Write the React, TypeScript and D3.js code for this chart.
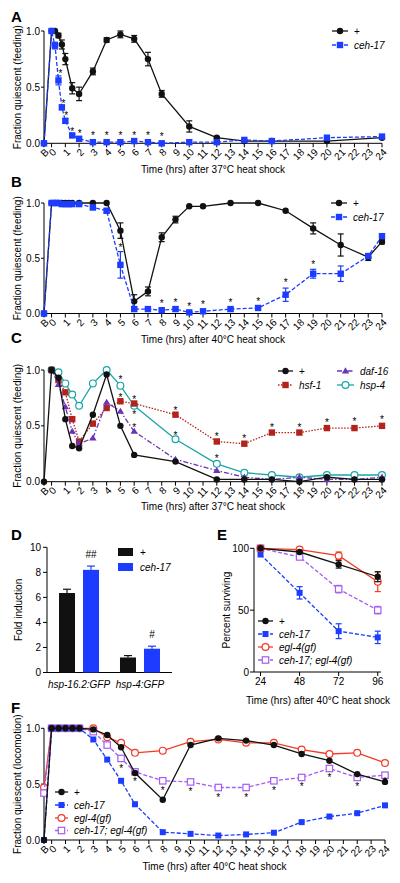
import React from "react";
import * as d3 from "d3";

const FONT = "'Liberation Sans', Arial, Helvetica, sans-serif";
const BLACK = "#111111";
const BLUE = "#1c3cff";
const RED = "#f23b27";
const DARKRED = "#b3231b";
const PURPLE = "#6b33b8";
const TEAL = "#1aa6a6";
const LILAC = "#a65cf0";

// ---------- shared tick labels ----------
const timeTickLabels = ["B", "0", "1", "2", "3", "4", "5", "6", "7", "8", "9", "10", "11", "12", "13", "14", "15", "16", "17", "18", "19", "20", "21", "22", "23", "24"];
const yTicksFrac = [0, 0.5, 1];

// ---------- Panel A ----------
const aTimes = ["B", 0, 0.25, 0.5, 0.75, 1, 1.5, 2, 3, 4, 5, 6, 7, 8, 10, 12, 14, 16, 20, 24];
const aWild = [0, 1, 1, 0.96, 0.88, 0.75, 0.49, 0.44, 0.64, 0.92, 0.97, 0.93, 0.75, 0.44, 0.15, 0.05, 0.02, 0.02, 0.02, 0.05];
const aWildErr = [0, 0, 0, 0.02, 0.04, 0.05, 0.05, 0.06, 0.03, 0.02, 0.03, 0.03, 0.06, 0.03, 0.05, 0.01, 0, 0, 0, 0.01];
const aCeh = [0, 1, 0.87, 0.56, 0.32, 0.2, 0.07, 0.04, 0.01, 0.01, 0.01, 0.02, 0.01, 0.0, 0.01, 0.01, 0.03, 0.02, 0.05, 0.06];
const aCehErr = [0, 0, 0.03, 0.04, 0.02, 0.02, 0.01, 0.02, 0, 0, 0, 0, 0, 0, 0, 0, 0, 0, 0, 0.01];
const aStarX = [0.65, 0.87, 1.07, 1.5, 2.05, 3, 4, 5, 6, 7, 8];
const aStarY = [0.64, 0.38, 0.27, 0.13, 0.11, 0.09, 0.09, 0.09, 0.09, 0.09, 0.08];

// ---------- Panel B ----------
const bTimes = ["B", 0, 0.25, 0.5, 0.75, 1, 1.25, 1.5, 2, 3, 4, 5, 6, 7, 8, 9, 10, 11, 13, 15, 17, 19, 21, 23, 24];
const bWild = [0, 1, 1, 1, 1, 1, 1, 1, 1, 1, 1, 0.75, 0.11, 0.2, 0.69, 0.85, 0.97, 0.97, 1.0, 1.0, 0.93, 0.77, 0.62, 0.51, 0.65];
const bWildErr = [0, 0, 0, 0, 0, 0, 0, 0, 0, 0, 0, 0.07, 0.06, 0.04, 0.04, 0.03, 0, 0, 0, 0, 0, 0.05, 0.1, 0.03, 0.02];
const bCeh = [0, 1, 1, 1, 0.99, 0.99, 0.99, 0.99, 0.99, 0.96, 0.93, 0.44, 0.04, 0.04, 0.03, 0.04, 0.01, 0.02, 0.04, 0.05, 0.17, 0.36, 0.36, 0.52, 0.7];
const bCehErr = [0, 0, 0, 0, 0, 0, 0, 0, 0.01, 0.02, 0.02, 0.12, 0.02, 0.02, 0.01, 0.02, 0.01, 0.01, 0.02, 0.01, 0.06, 0.04, 0.07, 0.02, 0.02];
const bStarX = [5, 8, 9, 10, 11, 13, 15, 17, 19];
const bStarY = [0.62, 0.11, 0.12, 0.09, 0.1, 0.12, 0.13, 0.3, 0.47];

// ---------- Panel C ----------
const cTimes = [0, 0.5, 1, 1.5, 2, 3, 4, 5, 6, 9, 12, 14, 16, 18, 20, 22, 24];
const cWildTimes = ["B", 0, 0.5, 1, 1.5, 2, 3, 4, 5, 6, 9, 12, 14, 16, 18, 20, 22, 24];
const cWild = [0, 1, 0.93, 0.56, 0.32, 0.3, 0.6, 0.96, 0.5, 0.24, 0.18, 0.02, 0.02, 0.02, 0.0, 0.04, 0.02, 0.02];
const cHsf1 = [1, 0.91, 0.8, 0.56, 0.36, 0.52, 0.66, 0.72, 0.7, 0.6, 0.36, 0.34, 0.44, 0.44, 0.48, 0.48, 0.5];
const cDaf16 = [1, 0.87, 0.67, 0.45, 0.34, 0.39, 0.71, 0.63, 0.45, 0.2, 0.1, 0.04, 0.02, 0.04, 0.02, 0.02, 0.04];
const cHsp4 = [1, 0.98, 0.88, 0.78, 0.68, 0.88, 1.0, 0.86, 0.68, 0.38, 0.16, 0.08, 0.06, 0.04, 0.06, 0.06, 0.06];
const cStarX = [5, 5, 6, 6, 6, 9, 9, 12, 12, 14, 16, 18, 20, 22, 24];
const cStarY = [0.94, 0.78, 0.76, 0.62, 0.51, 0.66, 0.44, 0.43, 0.23, 0.41, 0.51, 0.51, 0.55, 0.56, 0.58];

// ---------- Panel D ----------
const dCategories = ["hsp-16.2:GFP", "hsp-4:GFP"];
const dWild = [6.35, 1.2];
const dWildErr = [0.3, 0.15];
const dCeh = [8.2, 1.9];
const dCehErr = [0.3, 0.2];
const dMarks = ["##", "#"];
const dTicks = [0, 2, 4, 6, 8, 10];

// ---------- Panel E ----------
const eTimes = [24, 48, 72, 96];
const eWild = [100, 97, 87, 77];
const eWildErr = [0, 1, 3, 4];
const eCeh = [95, 64, 33, 28];
const eCehErr = [0, 5, 6, 5];
const eEgl = [100, 99, 94, 73];
const eEglErr = [0, 0, 3, 8];
const eDouble = [100, 93, 67, 50];
const eDoubleErr = [0, 2, 3, 3];
const eTicksY = [0, 50, 100];

// ---------- Panel F ----------
const fTimes = ["B", 0, 0.5, 1, 1.5, 2, 3, 4, 5, 6, 8, 10, 12, 14, 16, 18, 20, 22, 24];
const fWild = [0, 1, 1, 1, 1, 1, 0.99, 0.94, 0.83, 0.6, 0.36, 0.85, 0.91, 0.89, 0.85, 0.77, 0.71, 0.59, 0.52];
const fCeh = [0, 1, 1, 1, 1, 1, 0.9, 0.72, 0.53, 0.32, 0.07, 0.055, 0.04, 0.05, 0.065, 0.16, 0.21, 0.24, 0.31];
const fEgl = [0.47, 1, 1, 1, 1, 1, 1.0, 0.92, 0.87, 0.78, 0.8, 0.88, 0.9, 0.87, 0.87, 0.81, 0.77, 0.78, 0.69];
const fDouble = [0.42, 1, 1, 1, 1, 1, 0.97, 0.85, 0.73, 0.61, 0.53, 0.52, 0.47, 0.47, 0.53, 0.56, 0.64, 0.56, 0.58];
const fStarX = [5, 6, 8, 10, 12, 14, 16, 18, 20, 22, 24];
const fStarY = [0.66, 0.55, 0.47, 0.46, 0.4, 0.4, 0.47, 0.5, 0.58, 0.5, 0.55];

const B_POS = -0.55;
const tv = (t: any) => (t === "B" ? B_POS : +t);

type Marker = "circle" | "square" | "triangle";
interface Series {
  times: any[];
  values: number[];
  errs?: number[];
  color: string;
  marker: Marker;
  open?: boolean;
  dash?: string;
  size?: number;
}

function MarkerShape({ x, y, marker, color, open, size = 3.2 }: any) {
  const fill = open ? "white" : color;
  const sw = open ? 1.2 : 0;
  if (marker === "circle") return <circle cx={x} cy={y} r={size} fill={fill} stroke={color} strokeWidth={sw} />;
  if (marker === "square")
    return <rect x={x - size} y={y - size} width={size * 2} height={size * 2} fill={fill} stroke={color} strokeWidth={sw} />;
  const h = size * 1.9;
  return (
    <path
      d={`M${x},${y - h * 0.6} L${x + size * 1.15},${y + h * 0.4} L${x - size * 1.15},${y + h * 0.4} Z`}
      fill={fill}
      stroke={color}
      strokeWidth={sw}
    />
  );
}

function SeriesMarks({ s, x, y }: { s: Series; x: (v: number) => number; y: (v: number) => number }) {
  const pts = s.times.map((t, i) => [x(tv(t)), y(s.values[i])] as [number, number]);
  const line = d3.line()(pts) || "";
  return (
    <g>
      {s.errs &&
        s.times.map((t, i) => {
          const e = s.errs![i];
          if (!e) return null;
          const cx = x(tv(t));
          const y1 = y(s.values[i] - e);
          const y2 = y(s.values[i] + e);
          return (
            <g key={"e" + i} stroke={s.color} strokeWidth={1.2}>
              <line x1={cx} x2={cx} y1={y1} y2={y2} />
              <line x1={cx - 3} x2={cx + 3} y1={y1} y2={y1} />
              <line x1={cx - 3} x2={cx + 3} y1={y2} y2={y2} />
            </g>
          );
        })}
      <path d={line} fill="none" stroke={s.color} strokeWidth={1.3} strokeDasharray={s.dash} />
      {pts.map((p, i) => (
        <MarkerShape key={i} x={p[0]} y={p[1]} marker={s.marker} color={s.color} open={s.open} size={s.size} />
      ))}
    </g>
  );
}

function LegendItem({ x, y, s, label, italic = true, len = 16 }: any) {
  return (
    <g>
      <line x1={x} x2={x + len} y1={y} y2={y} stroke={s.color} strokeWidth={1.3} strokeDasharray={s.dash} />
      <MarkerShape x={x + len / 2} y={y} marker={s.marker} color={s.color} open={s.open} size={s.size} />
      <text x={x + len + 6} y={y} dy="0.35em" fontSize={10} fontStyle={italic ? "italic" : "normal"}>
        {label}
      </text>
    </g>
  );
}

function TimePanel({
  top,
  bottom,
  right,
  letter,
  letterY,
  yTitle,
  xTitle,
  xTitleY,
  series,
  starX,
  starY,
  legend,
}: any) {
  const x = d3.scaleLinear().domain([B_POS, 24]).range([44, right]);
  const y = d3.scaleLinear().domain([0, 1]).range([bottom, top]);
  return (
    <g>
      <text x={11} y={letterY} fontSize={15} fontWeight="bold">
        {letter}
      </text>
      {/* y axis */}
      <line x1={44} x2={44} y1={y(0)} y2={y(1)} stroke="black" strokeWidth={1} />
      {yTicksFrac.map((t) => (
        <g key={t}>
          <line x1={41} x2={44} y1={y(t)} y2={y(t)} stroke="black" />
          <text x={40} y={y(t)} dy="0.35em" textAnchor="end" fontSize={10}>
            {t.toFixed(1)}
          </text>
        </g>
      ))}
      <text transform={`translate(17.5,${(y(0) + y(1)) / 2}) rotate(-90)`} textAnchor="middle" fontSize={10} dy="0.35em">
        {yTitle}
      </text>
      {/* x axis */}
      <line x1={44} x2={right} y1={bottom} y2={bottom} stroke="black" />
      {timeTickLabels.map((l) => {
        const xx = x(tv(l));
        return (
          <g key={l}>
            <line x1={xx} x2={xx} y1={bottom} y2={bottom + 4} stroke="black" />
            <text transform={`translate(${xx + 3},${bottom + 7}) rotate(-45)`} textAnchor="end" dy="0.35em" fontSize={10}>
              {l}
            </text>
          </g>
        );
      })}
      <text x={(44 + right) / 2} y={xTitleY} textAnchor="middle" fontSize={10}>
        {xTitle}
      </text>
      {series.map((s: Series, i: number) => (
        <SeriesMarks key={i} s={s} x={x} y={y} />
      ))}
      {starX.map((sx: number, i: number) => (
        <text key={i} x={x(sx)} y={y(starY[i])} dy="0.6em" textAnchor="middle" fontSize={10}>
          *
        </text>
      ))}
      {legend}
    </g>
  );
}

export default function App() {
  const sAw: Series = { times: aTimes, values: aWild, errs: aWildErr, color: BLACK, marker: "circle" };
  const sAc: Series = { times: aTimes, values: aCeh, errs: aCehErr, color: BLUE, marker: "square", dash: "4,2" };
  const sBw: Series = { times: bTimes, values: bWild, errs: bWildErr, color: BLACK, marker: "circle" };
  const sBc: Series = { times: bTimes, values: bCeh, errs: bCehErr, color: BLUE, marker: "square", dash: "4,2" };
  const sCw: Series = { times: cWildTimes, values: cWild, color: BLACK, marker: "circle" };
  const sCh: Series = { times: cTimes, values: cHsf1, color: DARKRED, marker: "square", dash: "1.5,1.5" };
  const sCd: Series = { times: cTimes, values: cDaf16, color: PURPLE, marker: "triangle", dash: "5,2,1.5,2" };
  const sCs: Series = { times: cTimes, values: cHsp4, color: TEAL, marker: "circle", open: true, size: 3.4 };
  const sFw: Series = { times: fTimes, values: fWild, color: BLACK, marker: "circle" };
  const sFc: Series = { times: fTimes, values: fCeh, color: BLUE, marker: "square", dash: "4,2", size: 3 };
  const sFe: Series = { times: fTimes, values: fEgl, color: RED, marker: "circle", open: true, size: 3.4 };
  const sFd: Series = { times: fTimes, values: fDouble, color: LILAC, marker: "square", open: true, dash: "4,2", size: 3.2 };

  // Panel D scales
  const dy = d3.scaleLinear().domain([0, 10]).range([672.5, 547.3]);
  const dx = d3.scaleBand().domain(dCategories).range([47, 172]).paddingInner(0.05).paddingOuter(0.05);
  const barW = 16;

  // Panel E scales
  const ex = d3.scaleLinear().domain([20, 98]).range([254, 381]);
  const ey = d3.scaleLinear().domain([0, 100]).range([672, 548.3]);
  const sEw: Series = { times: eTimes, values: eWild, errs: eWildErr, color: BLACK, marker: "circle" };
  const sEc: Series = { times: eTimes, values: eCeh, errs: eCehErr, color: BLUE, marker: "square", dash: "4,2", size: 3 };
  const sEe: Series = { times: eTimes, values: eEgl, errs: eEglErr, color: RED, marker: "circle", open: true, size: 3.4 };
  const sEd: Series = { times: eTimes, values: eDouble, errs: eDoubleErr, color: LILAC, marker: "square", open: true, dash: "4,2" };

  return (
    <svg width={400} height={883} style={{ display: "block", position: "absolute", left: 0, top: 0 }} fontFamily={FONT}>
      <rect width={400} height={883} fill="white" />
      <TimePanel
        top={31}
        bottom={143.3}
        right={382}
        letter="A"
        letterY={22}
        yTitle="Fraction quiescent (feeding)"
        xTitle="Time (hrs) after 37°C heat shock"
        xTitleY={172.5}
        series={[sAw, sAc]}
        starX={aStarX}
        starY={aStarY}
        legend={
          <g>
            <LegendItem x={332} y={31} s={sAw} label="+" italic={false} />
            <LegendItem x={332} y={45} s={sAc} label="ceh-17" />
          </g>
        }
      />
      <TimePanel
        top={203}
        bottom={313.5}
        right={382}
        letter="B"
        letterY={187}
        yTitle="Fraction quiescent (feeding)"
        xTitle="Time (hrs) after 40°C heat shock"
        xTitleY={342.5}
        series={[sBw, sBc]}
        starX={bStarX}
        starY={bStarY}
        legend={
          <g>
            <LegendItem x={331} y={203} s={sBw} label="+" italic={false} />
            <LegendItem x={331} y={217} s={sBc} label="ceh-17" />
          </g>
        }
      />
      <TimePanel
        top={370}
        bottom={481.7}
        right={382}
        letter="C"
        letterY={343}
        yTitle="Fraction quiescent (feeding)"
        xTitle="Time (hrs) after 37°C heat shock"
        xTitleY={510}
        series={[sCs, sCh, sCd, sCw]}
        starX={cStarX}
        starY={cStarY}
        legend={
          <g>
            <LegendItem x={278} y={371} s={sCw} label="+" italic={false} len={15} />
            <LegendItem x={278} y={385} s={sCh} label="hsf-1" len={15} />
            <LegendItem x={337} y={371} s={sCd} label="daf-16" len={17} />
            <LegendItem x={337} y={385} s={sCs} label="hsp-4" len={17} />
          </g>
        }
      />

      {/* Panel D */}
      <g>
        <text x={11} y={540} fontSize={15} fontWeight="bold">
          D
        </text>
        <line x1={47} x2={47} y1={dy(0)} y2={dy(10)} stroke="black" />
        {dTicks.map((t) => (
          <g key={t}>
            <line x1={43} x2={47} y1={dy(t)} y2={dy(t)} stroke="black" />
            <text x={41} y={dy(t)} dy="0.35em" textAnchor="end" fontSize={10}>
              {t}
            </text>
          </g>
        ))}
        <text transform={`translate(18,${dy(5)}) rotate(-90)`} textAnchor="middle" dy="0.35em" fontSize={10}>
          Fold induction
        </text>
        <line x1={47} x2={172} y1={dy(0)} y2={dy(0)} stroke="black" />
        {dCategories.map((c, i) => {
          const bx = dx(c)! + dx.bandwidth() / 2;
          const xb = bx - 20;
          const xc = bx + 4;
          return (
            <g key={c}>
              <rect x={xb} y={dy(dWild[i])} width={barW} height={dy(0) - dy(dWild[i])} fill={BLACK} />
              <rect x={xc} y={dy(dCeh[i])} width={barW} height={dy(0) - dy(dCeh[i])} fill={BLUE} />
              <g stroke={BLACK} strokeWidth={1.2}>
                <line x1={xb + barW / 2} x2={xb + barW / 2} y1={dy(dWild[i])} y2={dy(dWild[i] + dWildErr[i])} />
                <line x1={xb + barW / 2 - 4} x2={xb + barW / 2 + 4} y1={dy(dWild[i] + dWildErr[i])} y2={dy(dWild[i] + dWildErr[i])} />
              </g>
              <g stroke={BLUE} strokeWidth={1.2}>
                <line x1={xc + barW / 2} x2={xc + barW / 2} y1={dy(dCeh[i])} y2={dy(dCeh[i] + dCehErr[i])} />
                <line x1={xc + barW / 2 - 4} x2={xc + barW / 2 + 4} y1={dy(dCeh[i] + dCehErr[i])} y2={dy(dCeh[i] + dCehErr[i])} />
              </g>
              <text x={xc + barW / 2} y={dy(dCeh[i] + dCehErr[i]) - 8} textAnchor="middle" fontSize={10}>
                {dMarks[i]}
              </text>
              <text x={bx} y={688} textAnchor="middle" fontSize={10} fontStyle="italic">
                {c}
              </text>
            </g>
          );
        })}
        <rect x={118} y={548} width={15} height={8} fill={BLACK} />
        <text x={140} y={552} dy="0.35em" fontSize={10}>
          +
        </text>
        <rect x={118} y={563} width={15} height={8} fill={BLUE} />
        <text x={140} y={567} dy="0.35em" fontSize={10} fontStyle="italic">
          ceh-17
        </text>
      </g>

      {/* Panel E */}
      <g>
        <text x={217} y={540} fontSize={15} fontWeight="bold">
          E
        </text>
        <line x1={254} x2={254} y1={ey(0)} y2={ey(100)} stroke="black" />
        {eTicksY.map((t) => (
          <g key={t}>
            <line x1={250} x2={254} y1={ey(t)} y2={ey(t)} stroke="black" />
            <text x={249} y={ey(t)} dy="0.35em" textAnchor="end" fontSize={10}>
              {t}
            </text>
          </g>
        ))}
        <text transform={`translate(226,${ey(50)}) rotate(-90)`} textAnchor="middle" dy="0.35em" fontSize={10}>
          Percent surviving
        </text>
        <line x1={254} x2={381} y1={ey(0)} y2={ey(0)} stroke="black" />
        {eTimes.map((t) => (
          <g key={t}>
            <line x1={ex(t)} x2={ex(t)} y1={ey(0)} y2={ey(0) + 4} stroke="black" />
            <text x={ex(t)} y={ey(0) + 13} textAnchor="middle" fontSize={10}>
              {t}
            </text>
          </g>
        ))}
        <text x={318} y={703.5} textAnchor="middle" fontSize={10}>
          Time (hrs) after 40°C heat shock
        </text>
        <SeriesMarks s={sEd} x={ex} y={ey} />
        <SeriesMarks s={sEc} x={ex} y={ey} />
        <SeriesMarks s={sEe} x={ex} y={ey} />
        <SeriesMarks s={sEw} x={ex} y={ey} />
        <LegendItem x={258} y={621} s={sEw} label="+" italic={false} len={15} />
        <LegendItem x={258} y={634} s={sEc} label="ceh-17" len={15} />
        <LegendItem x={258} y={647} s={sEe} label="egl-4(gf)" len={15} />
        <LegendItem x={258} y={660} s={sEd} label="ceh-17; egl-4(gf)" len={15} />
      </g>

      <TimePanel
        top={728.3}
        bottom={840}
        right={385}
        letter="F"
        letterY={713}
        yTitle="Fraction quiescent (locomotion)"
        xTitle="Time (hrs) after 40°C heat shock"
        xTitleY={870}
        series={[sFe, sFd, sFc, sFw]}
        starX={fStarX}
        starY={fStarY}
        legend={
          <g>
            <LegendItem x={55} y={792} s={sFw} label="+" italic={false} len={13} />
            <LegendItem x={55} y={805} s={sFc} label="ceh-17" len={13} />
            <LegendItem x={55} y={818} s={sFe} label="egl-4(gf)" len={13} />
            <LegendItem x={55} y={830.5} s={sFd} label="ceh-17; egl-4(gf)" len={13} />
          </g>
        }
      />
    </svg>
  );
}
